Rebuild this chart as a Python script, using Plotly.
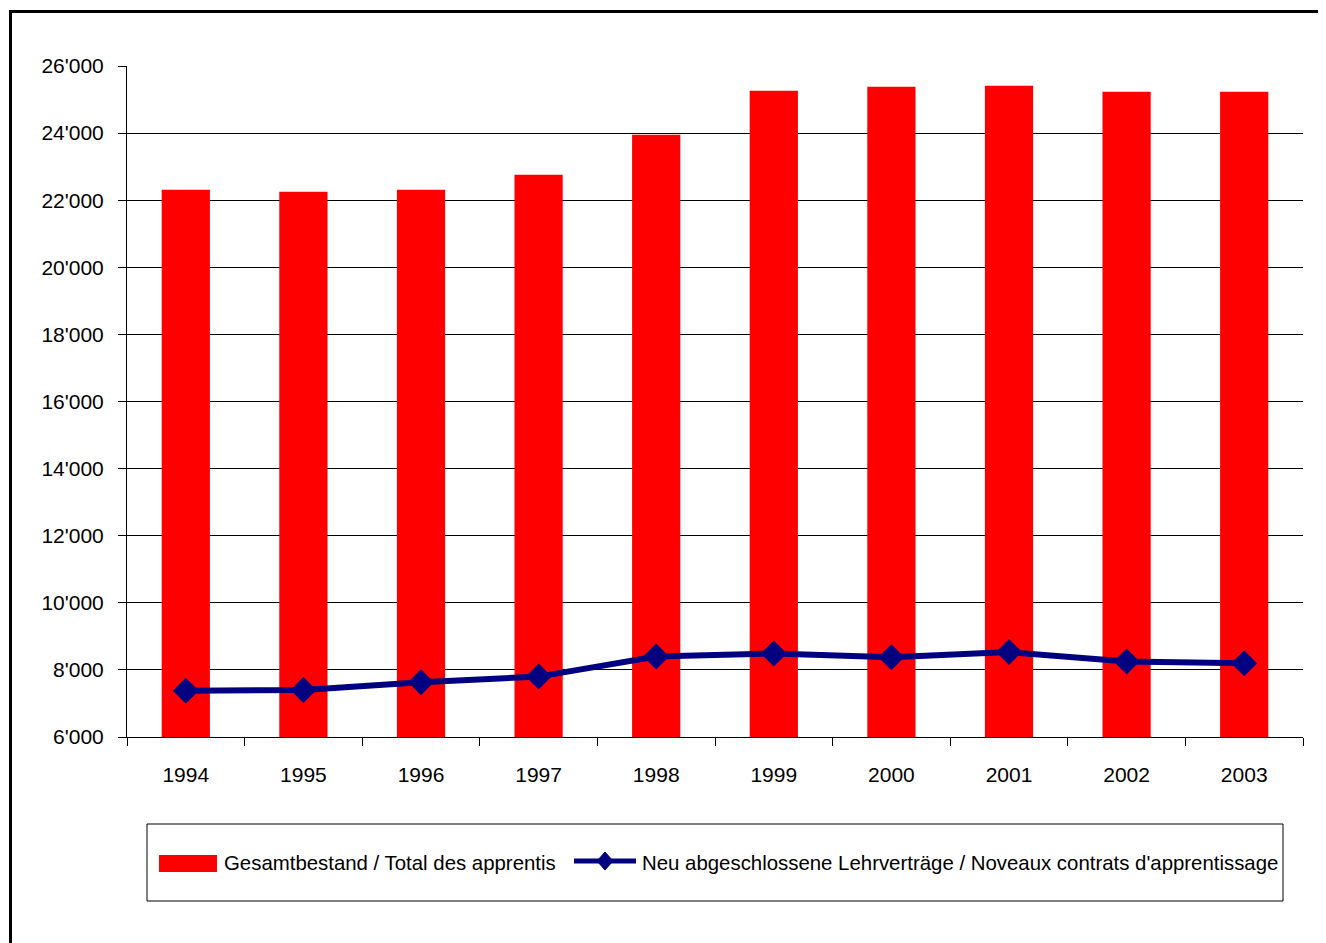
import plotly.graph_objects as go

years = ["1994", "1995", "1996", "1997", "1998", "1999", "2000", "2001", "2002", "2003"]
total_apprentices = [22310, 22250, 22310, 22760, 23950, 25260, 25380, 25410, 25230, 25230]
new_contracts = [7380, 7400, 7630, 7800, 8400, 8490, 8380, 8530, 8250, 8200]

bar_name = "Gesamtbestand / Total des apprentis"
line_name = "Neu abgeschlossene Lehrverträge / Noveaux contrats d'apprentissage"

FONT = "Liberation Sans, Arial, sans-serif"
FS = 21
LFS = 20.4

# page has an 8px body margin; figure coordinates are shifted accordingly
W, H = 1318, 935
L, R, T, B = 119, 23, 58, 206
pw, ph = W - L - R, H - T - B


def px(x):  # screen x -> paper
    return (x - 8 - L) / pw


def py(y):  # screen y -> paper
    return (H - B - (y - 8)) / ph


fig = go.Figure()
fig.add_trace(go.Bar(x=years, y=total_apprentices, name=bar_name,
                     marker=dict(color="#FF0000", line=dict(width=0))))
fig.add_trace(go.Scatter(x=years, y=new_contracts, name=line_name, mode="lines+markers",
                         line=dict(color="#000080", width=6),
                         marker=dict(symbol="diamond", size=20, color="#000080")))

# manual legend
cx, cy, hw, hh = 605, 861, 8, 9
diamond = (f"M {px(cx - hw)},{py(cy)} L {px(cx)},{py(cy - hh)} "
           f"L {px(cx + hw)},{py(cy)} L {px(cx)},{py(cy + hh)} Z")

shapes = [
    dict(type="rect", xref="paper", yref="paper",
         x0=px(147), x1=px(1283), y0=py(901), y1=py(824),
         line=dict(color="black", width=1), fillcolor="rgba(0,0,0,0)"),
    dict(type="rect", xref="paper", yref="paper",
         x0=px(159), x1=px(217), y0=py(872), y1=py(855),
         line=dict(width=0), fillcolor="#FF0000"),
    dict(type="line", xref="paper", yref="paper",
         x0=px(574), x1=px(636), y0=py(861), y1=py(861),
         line=dict(color="#000080", width=5)),
    dict(type="path", xref="paper", yref="paper", path=diamond,
         line=dict(color="#000080", width=1), fillcolor="#000080"),
    dict(type="rect", xref="paper", yref="paper",
         x0=px(10.5), x1=px(1400), y0=py(1000), y1=py(11.5),
         line=dict(color="black", width=3), fillcolor="rgba(0,0,0,0)"),
]

annotations = [
    dict(xref="paper", yref="paper", x=px(222), y=py(863), xanchor="left", yanchor="middle",
         text=bar_name, showarrow=False, font=dict(family=FONT, size=LFS, color="black")),
    dict(xref="paper", yref="paper", x=px(640), y=py(863), xanchor="left", yanchor="middle",
         text=line_name, showarrow=False, font=dict(family=FONT, size=LFS, color="black")),
]

fig.update_layout(
    width=W, height=H,
    margin=dict(l=L, r=R, t=T, b=B, autoexpand=False),
    paper_bgcolor="white", plot_bgcolor="white",
    separators=".'",
    bargap=0.59,
    font=dict(family=FONT, size=FS, color="black"),
    showlegend=False,
    xaxis=dict(type="category", range=[-0.5, 9.5], showline=True, linecolor="black", linewidth=1,
               ticks="outside", ticklen=8, tickcolor="black", tickson="boundaries",
               showgrid=False, ticklabelstandoff=19,
               tickfont=dict(family=FONT, size=FS, color="black")),
    yaxis=dict(range=[6000, 26000], dtick=2000, tickformat=",d",
               showline=True, linecolor="black", linewidth=1,
               ticks="outside", ticklen=8, tickcolor="black",
               showgrid=True, gridcolor="black", gridwidth=1, zeroline=False,
               ticklabelstandoff=10,
               tickfont=dict(family=FONT, size=FS, color="black")),
    shapes=shapes,
    annotations=annotations,
)

fig.write_html("out.html")
